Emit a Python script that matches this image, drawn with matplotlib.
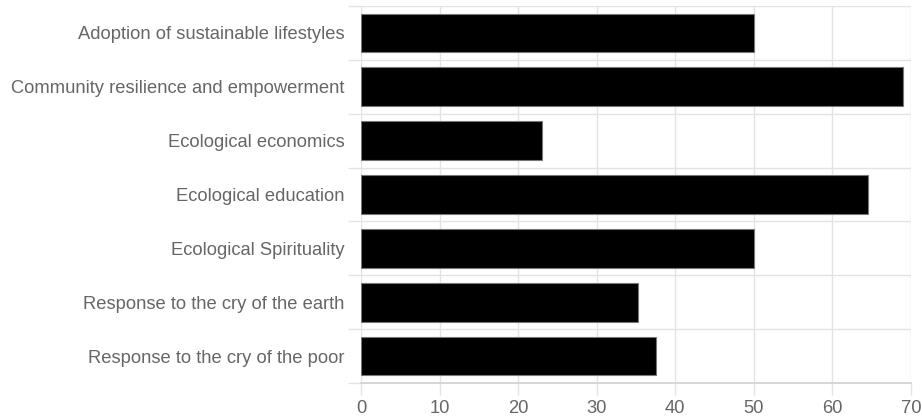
import numpy as np
import matplotlib.pyplot as plt

categories = [
    "Adoption of sustainable lifestyles",
    "Community resilience and empowerment",
    "Ecological economics",
    "Ecological education",
    "Ecological Spirituality",
    "Response to the cry of the earth",
    "Response to the cry of the poor",
]
values = [50, 69, 23, 64.5, 50, 35.2, 37.5]
xticks = [0, 10, 20, 30, 40, 50, 60, 70]

plt.rcParams['font.family'] = ['Liberation Sans', 'DejaVu Sans']

grid_c = '#e3e3e3'
text_c = '#666666'

fig = plt.figure(figsize=(9.22, 4.2), dpi=100)
ax = fig.add_axes([361 / 922, 1 - 383 / 420, 550 / 922, 377 / 420])

y_pos = np.arange(len(categories))
ax.barh(y_pos, values, height=0.72, color='black', edgecolor='#777777', linewidth=0.8, zorder=3)

ax.set_xlim(0, 70)
ax.set_ylim(len(categories) - 0.5, -0.5)

ax.set_xticks(xticks)
ax.set_xticklabels([str(t) for t in xticks])
ax.set_yticks(y_pos)
ax.set_yticklabels(categories)
ax.set_yticks(np.arange(-0.5, len(categories), 1), minor=True)

ax.xaxis.grid(True, color=grid_c, linewidth=1, zorder=0)
ax.yaxis.grid(True, which='minor', color=grid_c, linewidth=1, zorder=0)
ax.set_axisbelow(True)

ax.tick_params(axis='x', direction='out', length=8.5, width=1, color=grid_c,
               labelcolor=text_c, labelsize=13.2, pad=3.5)
ax.tick_params(axis='y', which='major', length=0, labelcolor=text_c, labelsize=13.2, pad=12)
ax.tick_params(axis='y', which='minor', direction='out', length=9.5, width=1, color=grid_c)

for side in ['top', 'right', 'left']:
    ax.spines[side].set_visible(False)
ax.spines['bottom'].set_color('#d0d0d0')
ax.spines['bottom'].set_linewidth(1.2)

plt.savefig('out.png', dpi=100)
